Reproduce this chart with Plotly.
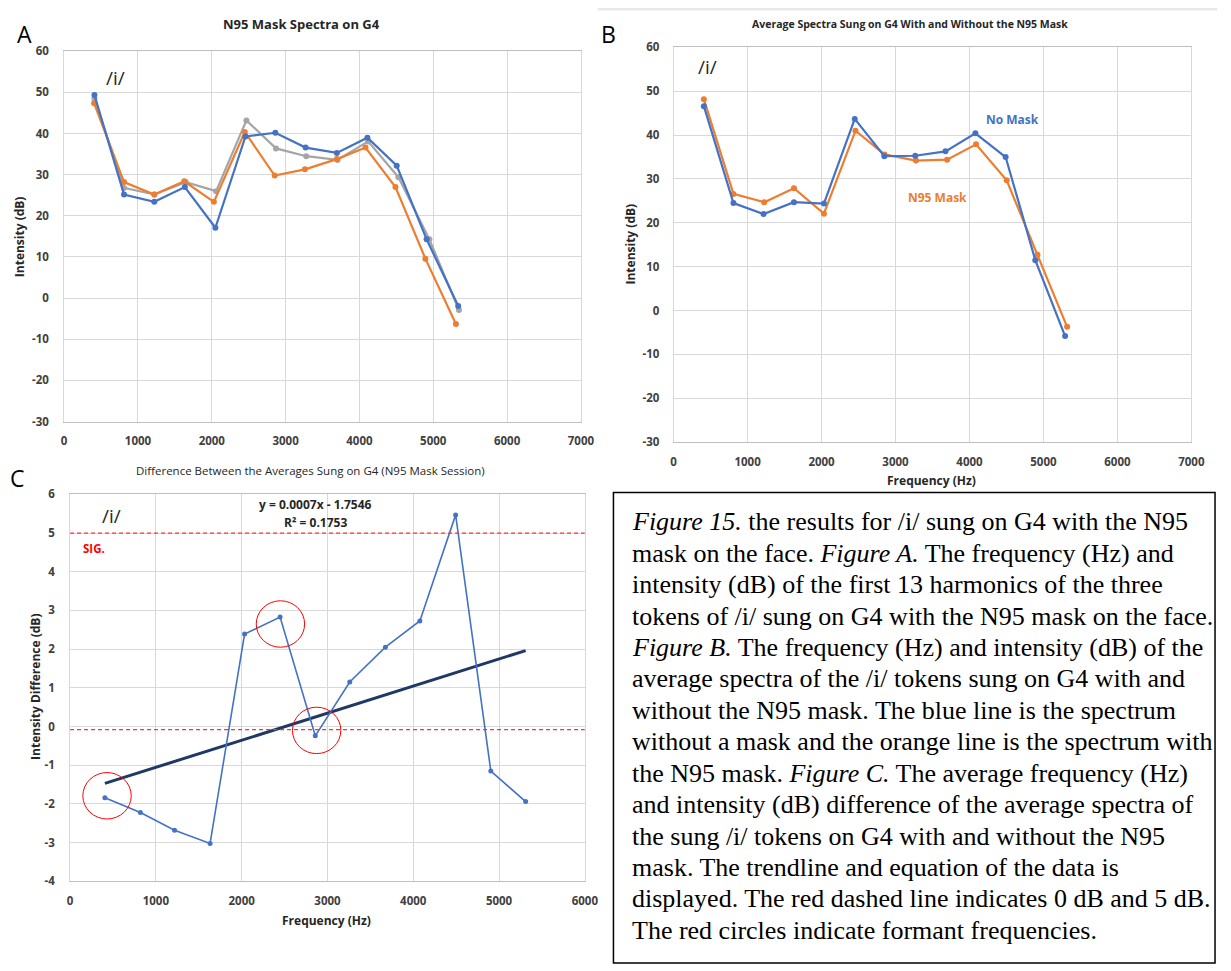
import plotly.graph_objects as go

W, H = 1231, 971

# ---- Panel A: three tokens of /i/ sung on G4 with the N95 mask ----
freq_tok1 = [410, 811, 1221, 1635, 2049, 2456, 2861, 3271, 3694, 4108, 4505, 4910, 5338]
db_tok1 = [49.4, 25.2, 23.4, 27.0, 17.1, 39.3, 40.2, 36.6, 35.3, 39.0, 32.2, 14.3, -1.9]
freq_tok2 = [405, 811, 1221, 1627, 2028, 2447, 2852, 3262, 3694, 4082, 4488, 4893, 5307]
db_tok2 = [47.4, 28.2, 25.2, 28.4, 23.4, 40.4, 29.8, 31.3, 33.8, 36.6, 27.0, 9.6, -6.3]
freq_tok3 = [410, 811, 1221, 1648, 2059, 2469, 2870, 3279, 3703, 4118, 4528, 4947, 5348]
db_tok3 = [48.5, 26.8, 25.2, 28.2, 26.0, 43.2, 36.4, 34.5, 33.6, 38.1, 29.4, 14.3, -2.9]

# ---- Panel B: average spectra with and without the mask ----
freq_nomask = [409, 809, 1216, 1627, 2032, 2449, 2849, 3267, 3676, 4080, 4489, 4890, 5293]
db_nomask = [46.6, 24.5, 22.0, 24.7, 24.4, 43.7, 35.2, 35.3, 36.3, 40.4, 35.0, 11.5, -5.8]
freq_n95 = [409, 809, 1225, 1627, 2032, 2459, 2851, 3276, 3698, 4089, 4503, 4920, 5320]
db_n95 = [48.2, 26.6, 24.7, 27.9, 22.1, 41.0, 35.6, 34.2, 34.4, 37.9, 29.7, 12.7, -3.7]

# ---- Panel C: difference between the averages ----
freq_diff = [406, 820, 1218, 1632, 2034, 2448, 2858, 3260, 3675, 4077, 4494, 4904, 5310]
db_diff = [-1.84, -2.22, -2.68, -3.02, 2.39, 2.83, -0.24, 1.15, 2.05, 2.73, 5.47, -1.15, -1.94]

# linear trendline reported on the chart
trend_slope = 0.0007
trend_intercept = -1.7546
trend_r2 = 0.1753

# formant circles (centre Hz, centre dB)
formant_hz = [431, 2452, 2874]
formant_db = [-1.79, 2.65, -0.10]

sig_level = 5
zero_level = -0.08

x_ticks_ab = [0, 1000, 2000, 3000, 4000, 5000, 6000, 7000]
y_ticks_ab = [-30, -20, -10, 0, 10, 20, 30, 40, 50, 60]
x_ticks_c = [0, 1000, 2000, 3000, 4000, 5000, 6000]
y_ticks_c = [-4, -3, -2, -1, 0, 1, 2, 3, 4, 5, 6]

BLUE = "#4472C4"
ORANGE = "#ED7D31"
GRAY = "#A5A5A5"
NAVY = "#1F3864"
RED = "#FF0000"
TXT = "#404040"
SANS = "Open Sans"


def px(x):
    return x / W


def py(y):
    return 1 - y / H


fig = go.Figure()


def spectrum(x, y, color, xa, ya, width=2.2, msize=6):
    fig.add_trace(go.Scatter(
        x=x, y=y, mode="lines+markers", xaxis=xa, yaxis=ya,
        line=dict(color=color, width=width),
        marker=dict(color=color, size=msize),
        showlegend=False, hoverinfo="x+y"))


spectrum(freq_tok3, db_tok3, GRAY, "x", "y")
spectrum(freq_tok2, db_tok2, ORANGE, "x", "y")
spectrum(freq_tok1, db_tok1, BLUE, "x", "y")

spectrum(freq_n95, db_n95, ORANGE, "x2", "y2")
spectrum(freq_nomask, db_nomask, BLUE, "x2", "y2")

# trendline across the span of the difference data
tx = [freq_diff[0], freq_diff[-1]]
ty = [trend_slope * v + trend_intercept for v in tx]
fig.add_trace(go.Scatter(x=tx, y=ty, mode="lines", xaxis="x3", yaxis="y3",
                         line=dict(color=NAVY, width=3), showlegend=False,
                         hoverinfo="skip"))
spectrum(freq_diff, db_diff, BLUE, "x3", "y3", width=1.6, msize=5)


def axis_style(dom, ticks, rng, standoff, line="#d9d9d9"):
    return dict(
        domain=dom, range=rng, tickvals=ticks,
        ticktext=[str(v) for v in ticks], showgrid=True,
        gridcolor="#d9d9d9", gridwidth=1, zeroline=False, showline=True,
        linecolor=line, linewidth=1, mirror=True, ticks="",
        ticklabelstandoff=standoff,
        tickfont=dict(family=SANS, size=11.5, color=TXT, weight="bold"),
        fixedrange=True)


fig.update_layout(
    width=W, height=H, autosize=False,
    margin=dict(l=0, r=0, t=0, b=0),
    paper_bgcolor="white", plot_bgcolor="white",
    xaxis=dict(axis_style([px(62), px(586)], x_ticks_ab, [0, 7000], 9, "#bfbfbf"), anchor="y"),
    yaxis=dict(axis_style([py(420), py(44)], y_ticks_ab, [-30, 60], 12), anchor="x"),
    xaxis2=dict(axis_style([px(680), px(1205)], x_ticks_ab, [0, 7000], 9, "#bfbfbf"), anchor="y2"),
    yaxis2=dict(axis_style([py(441), py(40)], y_ticks_ab, [-30, 60], 11), anchor="x2"),
    xaxis3=dict(axis_style([px(68), px(590)], x_ticks_c, [0, 6000], 9, "#bfbfbf"), anchor="y3"),
    yaxis3=dict(axis_style([py(887), py(494)], y_ticks_c, [-4, 6], 12), anchor="x3"),
)

shapes = []
# reference levels in the difference panel
for lvl in (sig_level, zero_level):
    shapes.append(dict(type="line", xref="x3", yref="y3", x0=0, x1=6000, y0=lvl, y1=lvl,
                       line=dict(color="#FF3030", width=1.3, dash="4px,3px")))
# formant circles
for cx, cy in zip(formant_hz, formant_db):
    shapes.append(dict(type="circle", xref="x3", yref="y3",
                       x0=cx - 282, x1=cx + 282, y0=cy - 0.6, y1=cy + 0.6,
                       line=dict(color=RED, width=1)))
# caption frame
shapes.append(dict(type="rect", xref="paper", yref="paper",
                   x0=px(619), x1=px(1229), y0=py(970), y1=py(492),
                   line=dict(color="black", width=1.5)))
# thin band above panel B
shapes.append(dict(type="rect", xref="paper", yref="paper",
                   x0=px(603), x1=1, y0=py(2.5), y1=1,
                   line=dict(width=0), fillcolor="#e9e9e9"))
fig.update_layout(shapes=shapes)

ann = []


def text(x, y, s, size=11, color=TXT, bold=False, angle=0, family=SANS,
         xanchor="center"):
    ann.append(dict(xref="paper", yref="paper", x=px(x), y=py(y), text=s,
                    showarrow=False, textangle=angle, xanchor=xanchor,
                    yanchor="middle",
                    font=dict(family=family, size=size, color=color,
                              weight="bold" if bold else "normal")))


# panel letters
text(22, 26, "A", size=23, color="black")
text(614, 26, "B", size=23, color="black")
text(15, 477, "C", size=23, color="black")

# titles
text(303, 16, "N95 Mask Spectra on G4", size=13, color="#262626", bold=True)
text(920, 16, "Average Spectra Sung on G4 With and Without the N95 Mask", size=10.5,
     color="#262626", bold=True)
text(312, 470, "Difference Between the Averages Sung on G4 (N95 Mask Session)", size=11.5,
     color="#262626")

# axis titles
text(17, 232, "Intensity (dB)", size=12, color="#262626", bold=True, angle=-90)
text(636, 240, "Intensity (dB)", size=12, color="#262626", bold=True, angle=-90)
text(942, 480, "Frequency (Hz)", size=12, color="#262626", bold=True)
text(33, 690, "Intensity Difference (dB)", size=12, color="#262626", bold=True, angle=-90)
text(328, 927, "Frequency (Hz)", size=12, color="#262626", bold=True)

# in-plot labels
text(114, 71, "/i/", size=19, color="#262626")
text(714, 60, "/i/", size=19, color="#262626")
text(110, 516, "/i/", size=19, color="#262626")
text(1024, 113, "No Mask", size=12, color=BLUE, bold=True)
text(948, 192, "N95 Mask", size=12, color=ORANGE, bold=True)
text(92, 549, "SIG.", size=11.5, color=RED, bold=True)
text(317, 504, f"y = {trend_slope}x - {abs(trend_intercept)}", size=12,
     color="#262626", bold=True)
text(317, 523, f"R² = {trend_r2}", size=12, color="#262626", bold=True)

# caption
caption = [
    "<i>Figure 15.</i> the results for /i/ sung on G4 with the N95",
    "mask on the face. <i>Figure A.</i> The frequency (Hz) and",
    "intensity (dB) of the first 13 harmonics of the three",
    "tokens of /i/ sung on G4 with the N95 mask on the face.",
    "<i>Figure B.</i> The frequency (Hz) and intensity (dB) of the",
    "average spectra of the /i/ tokens sung on G4 with and",
    "without the N95 mask. The blue line is the spectrum",
    "without a mask and the orange line is the spectrum with",
    "the N95 mask. <i>Figure C.</i> The average frequency (Hz)",
    "and intensity (dB) difference of the average spectra of",
    "the sung /i/ tokens on G4 with and without the N95",
    "mask. The trendline and equation of the data is",
    "displayed. The red dashed line indicates 0 dB and 5 dB.",
    "The red circles indicate formant frequencies.",
]
for i, line in enumerate(caption):
    text(636, 522 + i * 31.9, line, size=26, color="black",
         family="Liberation Serif", xanchor="left")

fig.update_layout(annotations=ann)

fig.write_html("out.html")
